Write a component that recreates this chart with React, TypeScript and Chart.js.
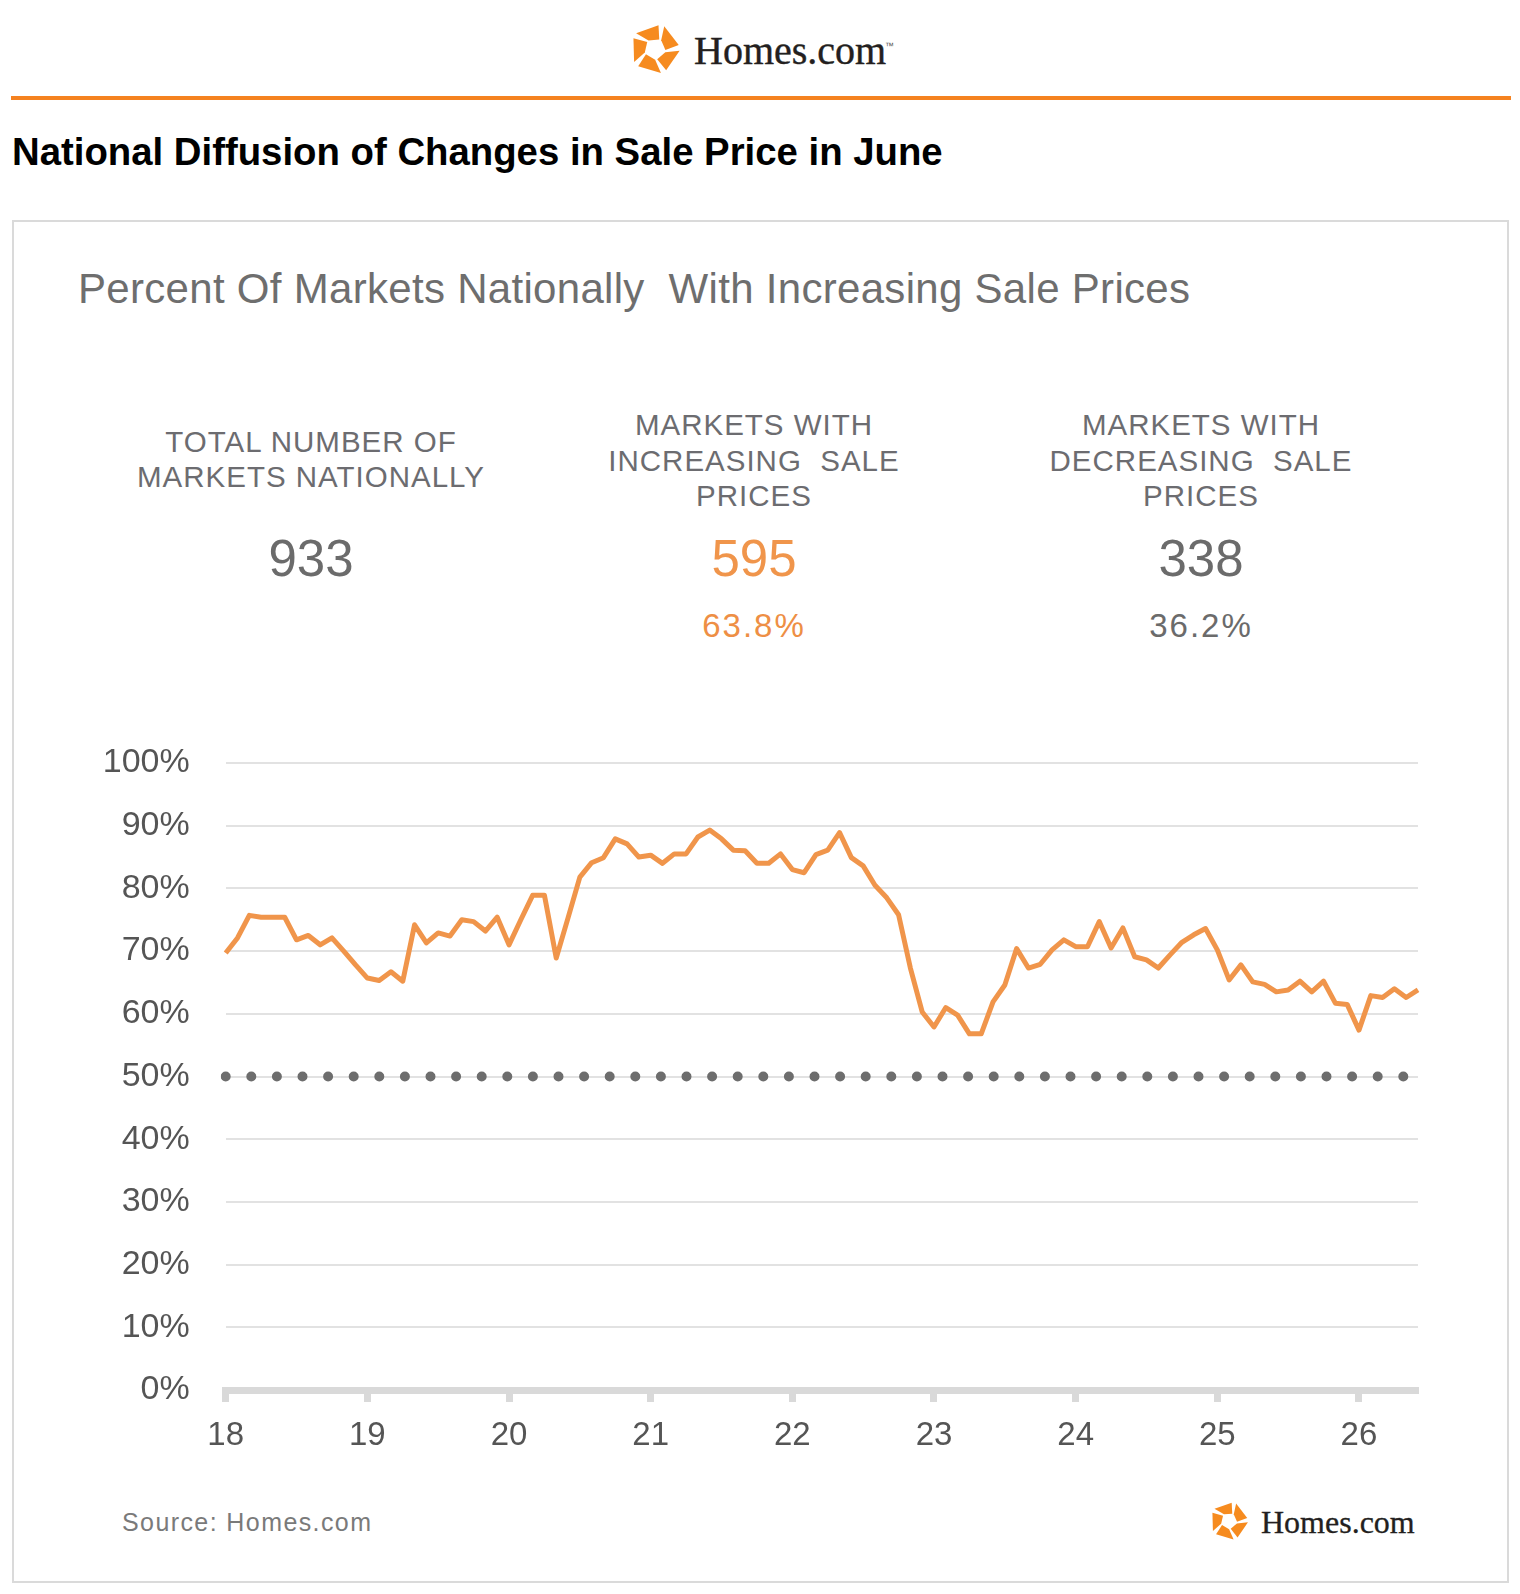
import React, { useEffect, useRef, useMemo } from 'react';
import { Chart, registerables } from 'chart.js';

Chart.register(...registerables);

// ---------- data ----------
const yearLabels = ['18', '19', '20', '21', '22', '23', '24', '25', '26'];
const monthNames = ['Jan', 'Feb', 'Mar', 'Apr', 'May', 'Jun', 'Jul', 'Aug', 'Sep', 'Oct', 'Nov', 'Dec'];
const increasingShare = [
  69.7, 72.1, 75.7, 75.4, 75.4, 75.4, 71.8, 72.5, 71.0, 72.1, 70.0, 67.8,
  65.7, 65.3, 66.7, 65.2, 74.2, 71.3, 72.9, 72.4, 75.0, 74.7, 73.2, 75.4,
  71.0, 75.0, 78.9, 78.9, 68.9, 75.3, 81.8, 84.1, 84.9, 87.9, 87.1, 85.0,
  85.3, 84.0, 85.5, 85.5, 88.2, 89.3, 87.9, 86.1, 86.0, 84.0, 84.0, 85.5,
  83.0, 82.5, 85.4, 86.1, 88.9, 84.9, 83.6, 80.5, 78.5, 75.8, 67.3, 60.3,
  57.9, 61.0, 59.8, 56.8, 56.8, 61.9, 64.6, 70.4, 67.3, 67.9, 70.2, 71.8,
  70.7, 70.7, 74.7, 70.5, 73.7, 69.1, 68.6, 67.3, 69.4, 71.4, 72.6, 73.6,
  70.2, 65.4, 67.8, 65.1, 64.7, 63.5, 63.8, 65.2, 63.5, 65.2, 61.7, 61.5,
  57.4, 62.9, 62.6, 64.0, 62.6, 63.8,
];
const referenceLevel = 50;
const yAxisMin = 0;
const yAxisMax = 100;
const yAxisStep = 10;

const statLabels = [
  ['TOTAL NUMBER OF', 'MARKETS NATIONALLY'],
  ['MARKETS WITH', 'INCREASING  SALE', 'PRICES'],
  ['MARKETS WITH', 'DECREASING  SALE', 'PRICES'],
];
const statValues = ['933', '595', '338'];
const statPercents = ['', '63.8%', '36.2%'];

const pageTitle = 'National Diffusion of Changes in Sale Price in June';
const chartTitle = 'Percent Of Markets Nationally  With Increasing Sale Prices';
const sourceText = 'Source: Homes.com';
const brandText = 'Homes.com';

// ---------- helpers ----------
const SANS = '"Liberation Sans", Arial, Helvetica, sans-serif';
const SERIF = '"Liberation Serif", "Times New Roman", serif';
const OFF = 8; // body margin
const ORANGE = '#F0954B';
const GRAY = '#6c6c70';

let measureCtx: CanvasRenderingContext2D | null = null;
function measure(text: string, font: string): number {
  if (!measureCtx) measureCtx = document.createElement('canvas').getContext('2d');
  if (!measureCtx) return 0;
  measureCtx.font = font;
  return measureCtx.measureText(text).width;
}
function spacingFor(text: string, font: string, target: number): number {
  const w = measure(text, font);
  return (target - w) / Math.max(1, text.length - 1);
}

type TProps = {
  x: number;
  baseline: number;
  size: number;
  align?: 'left' | 'center';
  color?: string;
  weight?: number | string;
  ls?: number;
  family?: string;
  stroke?: number;
  children: React.ReactNode;
};
function T({ x, baseline, size, align = 'left', color = GRAY, weight = 400, ls = 0, family = SANS, stroke = 0, children }: TProps) {
  const ratio = family === SERIF ? 0.8375 : 0.8465;
  const top = baseline - ratio * size - OFF;
  const style: React.CSSProperties = {
    position: 'absolute',
    top,
    fontSize: size,
    lineHeight: `${size}px`,
    fontFamily: family,
    fontWeight: weight as any,
    color,
    whiteSpace: 'pre',
    letterSpacing: ls ? `${ls}px` : undefined,
  };
  if (stroke) (style as any).WebkitTextStroke = `${stroke}px ${color}`;
  if (align === 'center') {
    style.left = x - 400 - OFF;
    style.width = 800;
    style.textAlign = 'center';
  } else {
    style.left = x - OFF;
  }
  return <div style={style}>{children}</div>;
}

function LogoMark({ cx, cy, R }: { cx: number; cy: number; R: number }) {
  const pad = 3;
  const size = 2 * R + 2 * pad;
  const c = R + pad;
  const polar = (r: number, deg: number) => {
    const a = (deg * Math.PI) / 180;
    return [c + r * Math.cos(a), c + r * Math.sin(a)];
  };
  const polys: string[] = [];
  for (let k = 0; k < 5; k++) {
    const phi = -112 + 72 * k;
    const pts = [polar(R, phi - 30), polar(R * 0.97, phi + 32), polar(R * 0.4, phi + 36 + 16), polar(R * 0.4, phi - 36 + 18)];
    const gx = pts.reduce((s, p) => s + p[0], 0) / 4;
    const gy = pts.reduce((s, p) => s + p[1], 0) / 4;
    const sh = pts.map((p) => [gx + (p[0] - gx) * 0.9, gy + (p[1] - gy) * 0.9]);
    polys.push(sh.map((p) => `${p[0].toFixed(2)},${p[1].toFixed(2)}`).join(' '));
  }
  return (
    <svg width={size} height={size} style={{ position: 'absolute', left: cx - c - OFF, top: cy - c - OFF }}>
      {polys.map((p, i) => (
        <polygon key={i} points={p} fill="#F68B1F" />
      ))}
    </svg>
  );
}

function LineChart() {
  const ref = useRef<HTMLCanvasElement | null>(null);
  useEffect(() => {
    if (!ref.current) return;
    const monthLabels = yearLabels
      .flatMap((y) => monthNames.map((m) => `${m} ${y}`))
      .slice(0, increasingShare.length);
    const chart = new Chart(ref.current, {
      type: 'line',
      data: {
        labels: monthLabels,
        datasets: [
          {
            data: increasingShare,
            borderColor: ORANGE,
            borderWidth: 5,
            pointRadius: 0,
            tension: 0,
            borderJoinStyle: 'round',
            order: 1,
          },
          {
            data: [
              { x: monthLabels[0], y: referenceLevel },
              { x: monthLabels[monthLabels.length - 1], y: referenceLevel },
            ] as any,
            borderColor: '#6d6d6d',
            borderWidth: 10,
            borderDash: [0, 25.6],
            borderCapStyle: 'round',
            pointRadius: 0,
            order: 0,
          },
        ],
      },
      options: {
        responsive: false,
        animation: false,
        devicePixelRatio: 1,
        layout: { padding: { top: 43, right: 32, left: 0, bottom: 0 } },
        plugins: { legend: { display: false }, tooltip: { enabled: false } },
        scales: {
          x: {
            type: 'category',
            offset: false,
            afterBuildTicks: (s: any) => {
              s.ticks = s.ticks.filter((t: any) => t.value % 12 === 0);
            },
            afterFit: (s: any) => {
              s.height = 80;
              s.paddingLeft = 0;
              s.paddingRight = 0;
            },
            ticks: {
              autoSkip: false,
              maxRotation: 0,
              padding: 14,
              color: '#555',
              font: { family: SANS, size: 33 },
              callback: (v: any) => yearLabels[Math.floor(Number(v) / 12)],
            },
            grid: {
              drawOnChartArea: false,
              drawTicks: true,
              tickLength: 12,
              tickWidth: 7,
              tickColor: '#d9d9d9',
            },
            border: { display: true, color: '#d9d9d9', width: 7 },
          },
          y: {
            min: yAxisMin,
            max: yAxisMax,
            afterFit: (s: any) => {
              s.width = 195.7;
              s.paddingTop = 0;
              s.paddingBottom = 0;
            },
            ticks: {
              stepSize: yAxisStep,
              padding: 36,
              color: '#555',
              font: { family: SANS, size: 34 },
              callback: (v: any) => `${v}%`,
            },
            grid: { color: '#e2e2e2', lineWidth: 2, drawTicks: false },
            border: { display: false },
          },
        },
      },
    } as any);
    return () => chart.destroy();
  }, []);
  return (
    <canvas
      ref={ref}
      width={1420}
      height={750}
      style={{ position: 'absolute', left: 30 - OFF, top: 720 - OFF, width: 1420, height: 750 }}
    />
  );
}

export default function App() {
  const fits = useMemo(() => {
    const titleNat = measure(pageTitle, `bold 37px ${SANS}`);
    const titleSize = titleNat > 0 ? (37 * 931) / titleNat : 37;
    return {
      titleSize,
      subLs: spacingFor(chartTitle, `42px ${SANS}`, 1112),
      srcLs: spacingFor(sourceText, `25px ${SANS}`, 249),
    };
  }, []);

  const colX = [311, 754, 1201];

  return (
    <div style={{ position: 'relative', width: 1504, height: 1578, fontFamily: SANS, background: '#fff' }}>
      {/* header logo */}
      <LogoMark cx={655} cy={49} R={26} />
      <T x={694} baseline={64} size={40} family={SERIF} color="#231f20" stroke={0.4}>
        {brandText}
      </T>
      <div style={{ position: 'absolute', left: 885 - OFF, top: 41 - OFF, fontSize: 9, fontFamily: SANS, color: '#555' }}>™</div>
      {/* orange rule */}
      <div style={{ position: 'absolute', left: 11 - OFF, top: 96 - OFF, width: 1500, height: 4, background: '#F58220' }} />

      {/* page title */}
      <T x={12} baseline={165} size={fits.titleSize} weight={700} color="#000">
        {pageTitle}
      </T>

      {/* panel */}
      <div
        style={{
          position: 'absolute',
          left: 12 - OFF,
          top: 220 - OFF,
          width: 1497,
          height: 1363,
          border: '2px solid #dadada',
          boxSizing: 'border-box',
        }}
      />

      <T x={78} baseline={304} size={42} color="#6e6e6e" ls={fits.subLs}>
        {chartTitle}
      </T>

      {/* stats */}
      {statLabels.map((lines, ci) => {
        const first = lines.length === 2 ? 451.7 : 435;
        return lines.map((ln, li) => (
          <T key={`${ci}-${li}`} x={colX[ci]} baseline={first + li * 35.6} size={29.5} align="center" ls={1} color={GRAY}>
            {ln}
          </T>
        ));
      })}
      {statValues.map((v, ci) => (
        <T key={`v${ci}`} x={colX[ci]} baseline={576} size={51} align="center" color={ci === 1 ? ORANGE : '#6b6b6b'}>
          {v}
        </T>
      ))}
      {statPercents.map((v, ci) =>
        v ? (
          <T key={`p${ci}`} x={colX[ci]} baseline={637} size={33} align="center" ls={2} color={ci === 1 ? '#EE8F45' : '#6b6b6b'}>
            {v}
          </T>
        ) : null
      )}

      <LineChart />

      {/* footer */}
      <T x={122} baseline={1531} size={25} color="#7a7a7a" ls={fits.srcLs}>
        {sourceText}
      </T>
      <LogoMark cx={1229} cy={1521} R={20} />
      <T x={1261} baseline={1533} size={32} family={SERIF} color="#231f20" stroke={0.3}>
        {brandText}
      </T>
    </div>
  );
}
